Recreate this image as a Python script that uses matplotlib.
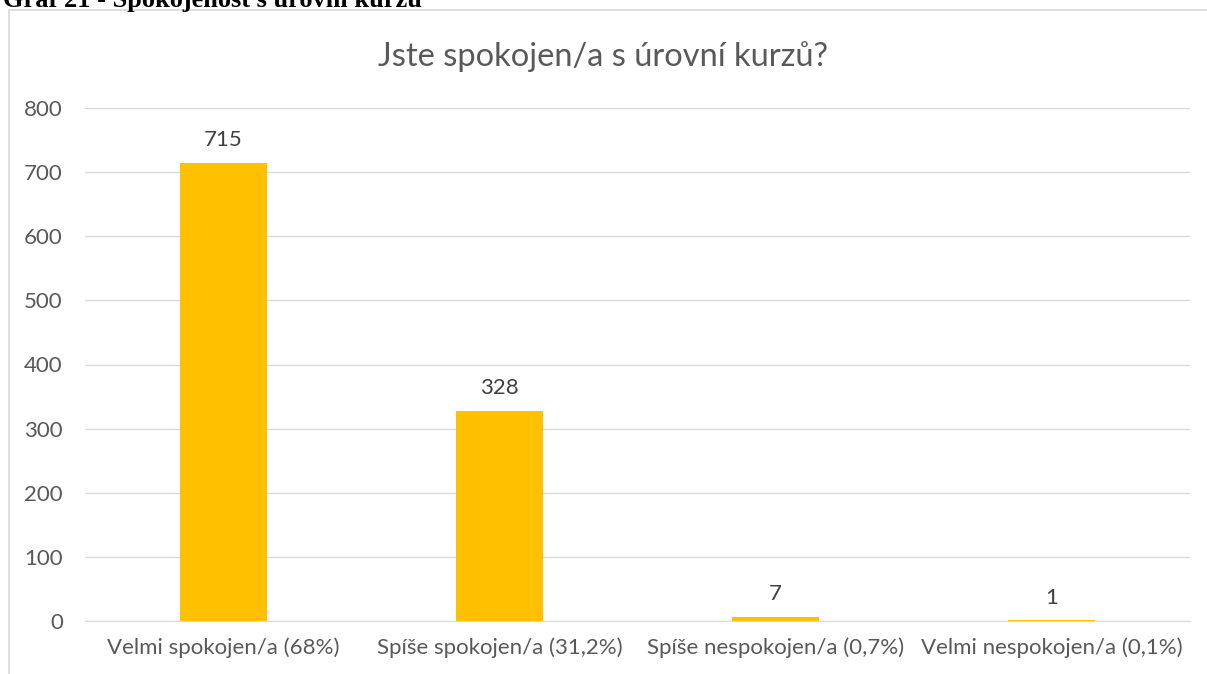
import matplotlib.pyplot as plt
import matplotlib.patches as patches

categories = ["Velmi spokojen/a (68%)", "Spíše spokojen/a (31,2%)",
              "Spíše nespokojen/a (0,7%)", "Velmi nespokojen/a (0,1%)"]
counts = [715, 328, 7, 1]
yticks = [0, 100, 200, 300, 400, 500, 600, 700, 800]

plt.rcParams['font.family'] = ['Lato', 'DejaVu Sans']
txt = '#595959'

fig = plt.figure(figsize=(12.07, 6.74), dpi=100)

# outer chart frame (runs off the page at right and bottom)
fig.add_artist(patches.Rectangle((9 / 1207, -0.05), 1.1, 1 - 10 / 674 + 0.05,
                                 transform=fig.transFigure, fill=False,
                                 edgecolor='#D9D9D9', linewidth=1.2))

# caption from the document, cut at the top
fig.text(3 / 1207, 1 - 7 / 674, "Graf 21 - Spokojenost s úrovní kurzu",
         family='Liberation Serif', weight='bold', fontsize=19, va='baseline', ha='left')

ax = fig.add_axes([85 / 1207, 1 - 621 / 674, 1105 / 1207, 513 / 674])
x = range(len(categories))
bars = ax.bar(x, counts, width=0.315, color='#FFC000', zorder=3)

for b, v in zip(bars, counts):
    ax.annotate(str(v), (b.get_x() + b.get_width() / 2, v), xytext=(0, 9),
                textcoords='offset points', ha='center', va='bottom',
                fontsize=16, color='#404040')

ax.set_xlim(-0.5, 3.5)
ax.set_ylim(0, 800)
ax.set_yticks(yticks)
ax.set_xticks(list(x))
ax.set_xticklabels(categories)
ax.grid(axis='y', color='#D9D9D9', linewidth=1)
ax.set_axisbelow(True)
for s in ['top', 'right', 'left']:
    ax.spines[s].set_visible(False)
ax.spines['bottom'].set_color('#D9D9D9')
ax.tick_params(axis='both', length=0, labelsize=16, colors=txt)
ax.tick_params(axis='y', pad=16)
ax.tick_params(axis='x', pad=12)

fig.text(0.5, 1 - 57 / 674, "Jste spokojen/a s úrovní kurzů?", ha='center', va='center',
         fontsize=23.5, color=txt)

fig.savefig('out.png', dpi=100)
